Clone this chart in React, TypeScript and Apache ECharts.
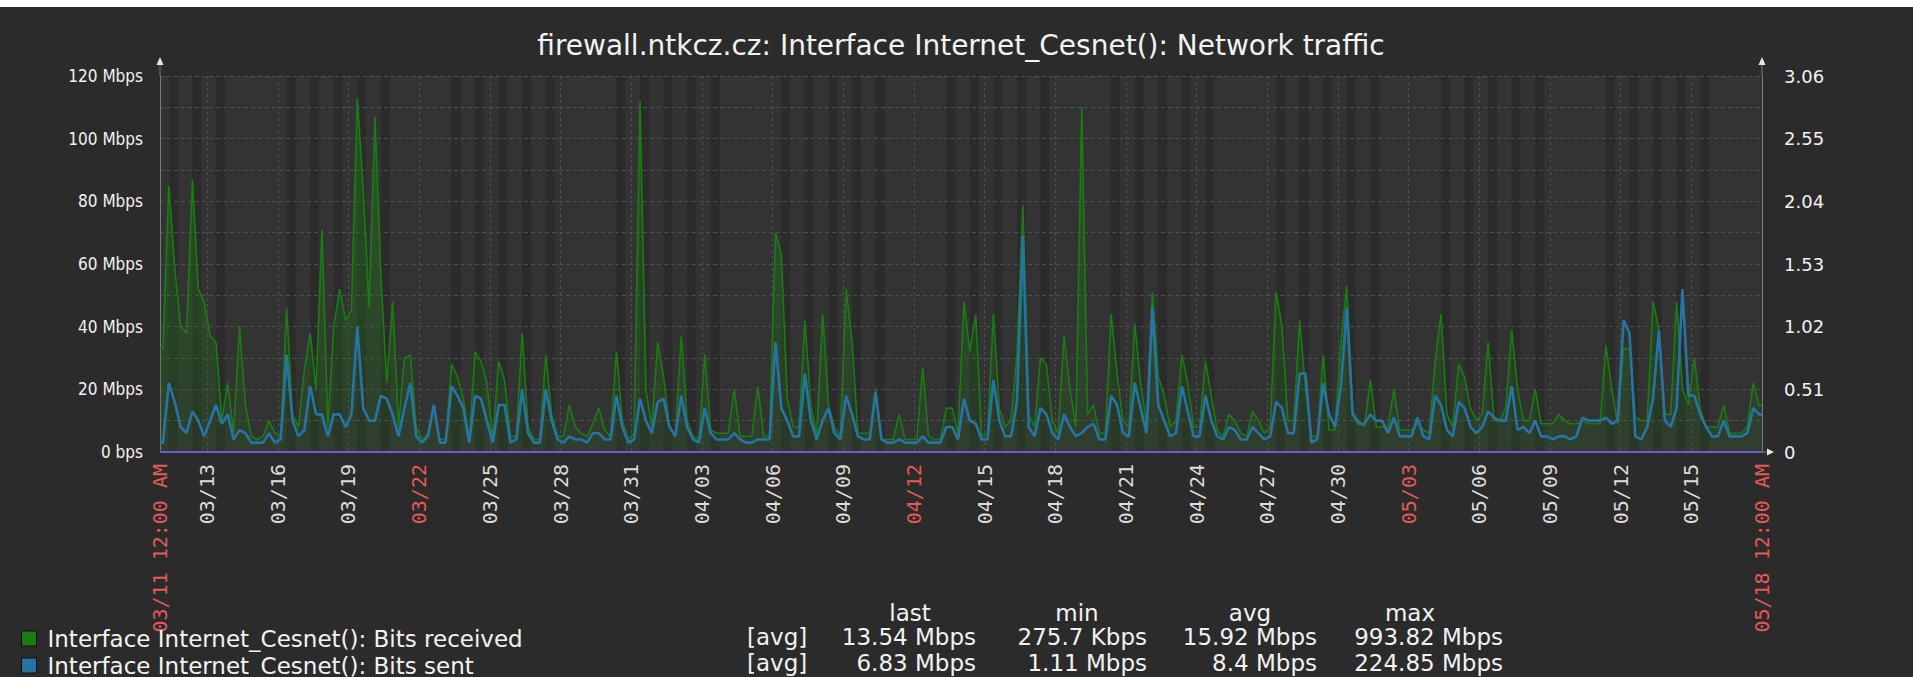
import React, { useEffect, useRef } from 'react';
import * as echarts from 'echarts';

const TITLE = 'firewall.ntkcz.cz: Interface Internet_Cesnet(): Network traffic';
const seriesNames = [
  'Interface Internet_Cesnet(): Bits received',
  'Interface Internet_Cesnet(): Bits sent',
];
const seriesColors = ['#1A7C11', '#2774A4', '#6C59DC'];

// time base: x = days since 03/11 12:00 AM (a Wednesday), 4 samples per day (6 h each)
const SLOTS_PER_DAY = 4;
const RANGE_DAYS = 68;
const FIRST_WEEKDAY = 3;
const WORK_HOURS = [9, 18];

const tickDays = [0, 2, 5, 8, 11, 14, 17, 20, 23, 26, 29, 32, 35, 38, 41, 44, 47, 50, 53, 56, 59, 62, 65, 68];
const tickLabels = [
  '03/11 12:00 AM', '03/13', '03/16', '03/19', '03/22', '03/25', '03/28', '03/31', '04/03', '04/06', '04/09',
  '04/12', '04/15', '04/18', '04/21', '04/24', '04/27', '04/30', '05/03', '05/06', '05/09', '05/12', '05/15',
  '05/18 12:00 AM',
];
const redLabels = ['03/11 12:00 AM', '03/22', '04/12', '05/03', '05/18 12:00 AM'];

// Bits received, Mbps (4 values per day)
const received = [
  33, 85, 59, 40, 38, 87, 52, 48, 37, 35, 10, 22, 6, 40, 15, 5, 4, 5, 10, 6, 5, 46, 12, 8, 26, 38, 20, 71,
  8, 40, 52, 42, 45, 113, 84, 46, 107, 56, 22, 48, 8, 30, 31, 8, 4, 6, 15, 4, 4, 28, 24, 17, 4, 32, 29, 22,
  4, 29, 23, 5, 5, 38, 8, 4, 4, 31, 12, 5, 5, 15, 8, 6, 5, 9, 14, 7, 5, 32, 10, 4, 6, 112, 20, 8,
  35, 24, 8, 5, 37, 10, 5, 4, 31, 7, 6, 6, 6, 20, 5, 5, 5, 21, 5, 5, 70, 63, 17, 8, 8, 42, 15, 5,
  44, 15, 8, 5, 52, 35, 6, 6, 6, 20, 4, 4, 4, 12, 4, 4, 4, 27, 5, 4, 4, 14, 14, 6, 48, 32, 44, 5,
  6, 44, 14, 8, 10, 31, 79, 12, 8, 30, 28, 10, 6, 37, 20, 8, 110, 12, 15, 6, 6, 44, 25, 10, 8, 41, 22, 9,
  51, 24, 18, 8, 10, 31, 22, 8, 8, 29, 18, 7, 5, 12, 10, 6, 5, 13, 10, 6, 8, 51, 40, 10, 10, 42, 20, 5,
  5, 31, 7, 7, 35, 53, 13, 10, 8, 23, 8, 8, 8, 20, 7, 7, 7, 9, 7, 6, 29, 44, 12, 8, 28, 24, 14, 10,
  12, 35, 10, 10, 14, 39, 20, 10, 10, 20, 9, 9, 9, 12, 10, 9, 9, 10, 9, 9, 9, 34, 20, 9, 33, 33, 11, 10,
  10, 48, 39, 12, 12, 48, 20, 15, 30, 14, 8, 8, 8, 15, 6, 6, 6, 8, 22, 15,
];

// Bits sent, Mbps (4 values per day)
const sent = [
  3, 22, 16, 8, 6, 13, 10, 5, 10, 15, 9, 12, 4, 7, 6, 3, 3, 3, 6, 3, 4, 31, 10, 5, 7, 21, 12, 12,
  5, 12, 12, 8, 12, 40, 14, 10, 10, 18, 17, 12, 5, 14, 22, 5, 3, 5, 15, 3, 3, 21, 18, 14, 3, 18, 17, 10,
  3, 15, 15, 3, 4, 20, 6, 3, 3, 20, 10, 4, 3, 5, 4, 4, 3, 6, 6, 4, 4, 18, 8, 3, 4, 17, 10, 6,
  16, 17, 8, 5, 18, 8, 4, 3, 14, 6, 4, 4, 4, 6, 4, 3, 3, 4, 4, 4, 35, 14, 10, 5, 5, 25, 10, 4,
  10, 14, 6, 4, 18, 12, 5, 4, 4, 19, 4, 3, 3, 4, 3, 3, 3, 5, 3, 3, 3, 8, 8, 4, 17, 10, 9, 4,
  4, 23, 10, 5, 5, 16, 69, 8, 5, 14, 12, 6, 4, 12, 8, 5, 6, 8, 9, 4, 4, 18, 15, 6, 5, 22, 14, 6,
  46, 15, 10, 5, 6, 21, 13, 5, 5, 18, 10, 5, 4, 8, 7, 4, 4, 8, 6, 4, 5, 16, 14, 6, 6, 25, 25, 3,
  4, 22, 12, 8, 21, 46, 12, 9, 9, 12, 10, 10, 6, 11, 5, 5, 5, 11, 5, 4, 18, 15, 7, 5, 16, 14, 8, 6,
  8, 13, 11, 10, 10, 21, 7, 8, 6, 10, 5, 5, 4, 5, 5, 4, 5, 11, 10, 10, 10, 11, 9, 10, 42, 38, 5, 4,
  8, 17, 39, 10, 8, 14, 52, 18, 18, 12, 8, 5, 5, 10, 5, 5, 5, 6, 14, 12,
];

// third item on the right axis (its legend row is cut off in the picture)
const statusDays = [0, 68];
const statusValues = [0, 0];

const statHeaders = ['last', 'min', 'avg', 'max'];
const statFunction = '[avg]';
const receivedStats = ['13.54 Mbps', '275.7 Kbps', '15.92 Mbps', '993.82 Mbps'];
const sentStats = ['6.83 Mbps', '1.11 Mbps', '8.4 Mbps', '224.85 Mbps'];

// layout (chart coordinates)
const G_LEFT = 160;
const G_TOP = 69;
const G_W = 1602;
const G_H = 376;
const FONT = 'DejaVu Sans';
const NARROW = "'DejaVu Sans Condensed', 'DejaVu Sans'";
const TEXT = '#F2F2F2';
const AXIS = '#7a7a7a';

// samples placed at the middle of their 6-hour slot, held to the range edges
function toPoints(values: number[]) {
  const half = 0.5 / SLOTS_PER_DAY;
  const pts = values.map((v, i) => [i / SLOTS_PER_DAY + half, v]);
  pts.unshift([0, values[0]]);
  pts.push([RANGE_DAYS, values[values.length - 1]]);
  return pts;
}

function nonWorkIntervals() {
  const out: number[][] = [];
  const add = (a: number, b: number) => {
    const last = out[out.length - 1];
    if (last && Math.abs(last[1] - a) < 1e-9) last[1] = b;
    else out.push([a, b]);
  };
  for (let d = 0; d < RANGE_DAYS; d++) {
    const wd = (FIRST_WEEKDAY + d) % 7;
    if (wd === 0 || wd === 6) add(d, d + 1);
    else {
      add(d, d + WORK_HOURS[0] / 24);
      add(d + WORK_HOURS[1] / 24, d + 1);
    }
  }
  return out;
}

function buildOption(): any {
  const statCols = [
    { header: 910, right: 976 },
    { header: 1077, right: 1147 },
    { header: 1250, right: 1317 },
    { header: 1410, right: 1503 },
  ];
  const rowY = [630, 656];
  const legendFont = 23;
  const graphics: any[] = [];
  statHeaders.forEach((h, i) => {
    graphics.push({
      type: 'text', x: statCols[i].header, y: 606,
      style: { text: h, fill: TEXT, fontSize: legendFont, fontFamily: FONT, align: 'center', verticalAlign: 'middle' },
    });
  });
  [receivedStats, sentStats].forEach((row, r) => {
    graphics.push({
      type: 'text', x: 747, y: rowY[r],
      style: { text: statFunction, fill: TEXT, fontSize: legendFont, fontFamily: FONT, align: 'left', verticalAlign: 'middle' },
    });
    row.forEach((t, i) => {
      graphics.push({
        type: 'text', x: statCols[i].right, y: rowY[r],
        style: { text: t, fill: TEXT, fontSize: legendFont, fontFamily: FONT, align: 'right', verticalAlign: 'middle' },
      });
    });
  });
  // axis extensions with arrow heads
  const gRight = G_LEFT + G_W;
  const gBottom = G_TOP + G_H;
  [G_LEFT, gRight].forEach((x) => {
    graphics.push({ type: 'line', shape: { x1: x, y1: G_TOP - 12, x2: x, y2: G_TOP }, style: { stroke: AXIS, lineWidth: 1 } });
    graphics.push({
      type: 'polygon',
      shape: { points: [[x - 3.5, G_TOP - 11], [x + 3.5, G_TOP - 11], [x, G_TOP - 19]] },
      style: { fill: '#e6e6e6' },
    });
  });
  graphics.push({ type: 'line', shape: { x1: gRight, y1: gBottom, x2: gRight + 6, y2: gBottom }, style: { stroke: AXIS, lineWidth: 1 } });
  graphics.push({
    type: 'polygon',
    shape: { points: [[gRight + 5, gBottom - 3.5], [gRight + 5, gBottom + 3.5], [gRight + 12, gBottom]] },
    style: { fill: '#e6e6e6' },
  });

  return {
    animation: false,
    backgroundColor: '#2B2B2B',
    title: {
      text: TITLE,
      left: 961,
      textAlign: 'center',
      top: 24,
      padding: 0,
      textStyle: { color: TEXT, fontSize: 28, fontWeight: 'normal', fontFamily: FONT },
    },
    legend: {
      data: seriesNames,
      orient: 'vertical',
      left: 21,
      top: 620,
      height: 120,
      padding: 0,
      itemWidth: 15,
      itemHeight: 15,
      itemGap: 4,
      icon: 'rect',
      textStyle: { color: TEXT, fontSize: legendFont, fontFamily: FONT, lineHeight: 15, padding: [0, 0, 0, 6] },
      itemStyle: { borderColor: '#101010', borderWidth: 1 },
      selectedMode: false,
    },
    grid: { left: G_LEFT, top: G_TOP, width: G_W, height: G_H, containLabel: false, outerBoundsMode: 'none' },
    xAxis: {
      type: 'value',
      min: 0,
      max: RANGE_DAYS,
      axisLine: { show: true, onZero: false, lineStyle: { color: AXIS, width: 1 } },
      axisTick: { show: false, customValues: tickDays },
      splitLine: { show: true, lineStyle: { color: '#4f4f4f', type: [3, 3], width: 1 } },
      axisLabel: {
        customValues: tickDays,
        rotate: 90,
        margin: 12,
        fontFamily: 'DejaVu Sans Mono',
        fontSize: 20,
        color: '#dcdcdc',
        formatter: (v: number) => {
          const i = tickDays.indexOf(Math.round(v));
          const label = i >= 0 ? tickLabels[i] : '';
          return redLabels.indexOf(label) >= 0 ? '{r|' + label + '}' : '{n|' + label + '}';
        },
        rich: {
          r: { color: '#E45959', fontFamily: 'DejaVu Sans Mono', fontSize: 20 },
          n: { color: '#dcdcdc', fontFamily: 'DejaVu Sans Mono', fontSize: 20 },
        },
      },
    },
    yAxis: [
      {
        type: 'value',
        min: 0,
        max: 120,
        interval: 10,
        axisLine: { show: true, lineStyle: { color: AXIS, width: 1 } },
        axisTick: { show: false },
        splitLine: { show: true, lineStyle: { color: '#4f4f4f', type: [4, 3], width: 1 } },
        axisLabel: {
          margin: 17,
          color: TEXT,
          fontSize: 17,
          fontFamily: NARROW,
          formatter: (v: number) => (v % 20 !== 0 ? '' : v === 0 ? '0 bps' : v + ' Mbps'),
        },
      },
      {
        type: 'value',
        min: 0,
        max: 3.06,
        interval: 0.51,
        position: 'right',
        axisLine: { show: true, lineStyle: { color: AXIS, width: 1 } },
        axisTick: { show: false },
        splitLine: { show: false },
        axisLabel: {
          margin: 22,
          color: TEXT,
          fontSize: 18,
          fontFamily: FONT,
          formatter: (v: number) => (v === 0 ? '0' : v.toFixed(2)),
        },
      },
    ],
    graphic: graphics,
    series: [
      {
        type: 'custom',
        name: 'non-working time',
        z: -1,
        silent: true,
        data: nonWorkIntervals(),
        encode: { x: [0, 1] },
        renderItem: (params: any, api: any) => {
          const a = api.coord([api.value(0), 0]);
          const b = api.coord([api.value(1), 0]);
          const cs = params.coordSys;
          return {
            type: 'rect',
            shape: { x: a[0], y: cs.y, width: b[0] - a[0], height: cs.height },
            style: { fill: '#333333' },
          };
        },
      },
      {
        type: 'line',
        name: seriesNames[0],
        data: toPoints(received),
        symbol: 'none',
        z: 2,
        itemStyle: { color: seriesColors[0] },
        lineStyle: { color: seriesColors[0], width: 1.6 },
        areaStyle: {
          color: new echarts.graphic.LinearGradient(0, G_TOP, 0, G_TOP + G_H, [
            { offset: 0, color: 'rgba(26,124,17,0.75)' },
            { offset: 1, color: 'rgba(26,124,17,0.2)' },
          ], true),
        },
      },
      {
        type: 'line',
        name: seriesNames[1],
        data: toPoints(sent),
        symbol: 'none',
        z: 3,
        itemStyle: { color: seriesColors[1] },
        lineStyle: { color: seriesColors[1], width: 2.6 },
      },
      {
        type: 'line',
        name: 'status',
        yAxisIndex: 1,
        data: statusDays.map((d, i) => [d, statusValues[i]]),
        symbol: 'none',
        z: 4,
        lineStyle: { color: seriesColors[2], width: 2 },
        itemStyle: { color: seriesColors[2] },
      },
    ],
  };
}

export default function App() {
  const ref = useRef<HTMLDivElement>(null);
  useEffect(() => {
    const chart = echarts.init(ref.current as HTMLDivElement, null, { renderer: 'svg' });
    chart.setOption(buildOption());
    return () => chart.dispose();
  }, []);
  return (
    <div style={{ position: 'absolute', left: 0, top: 0, width: 1913, height: 677, background: '#ffffff', overflow: 'hidden' }}>
      <div ref={ref} style={{ position: 'absolute', left: 0, top: 7, width: 1913, height: 670 }} />
    </div>
  );
}
